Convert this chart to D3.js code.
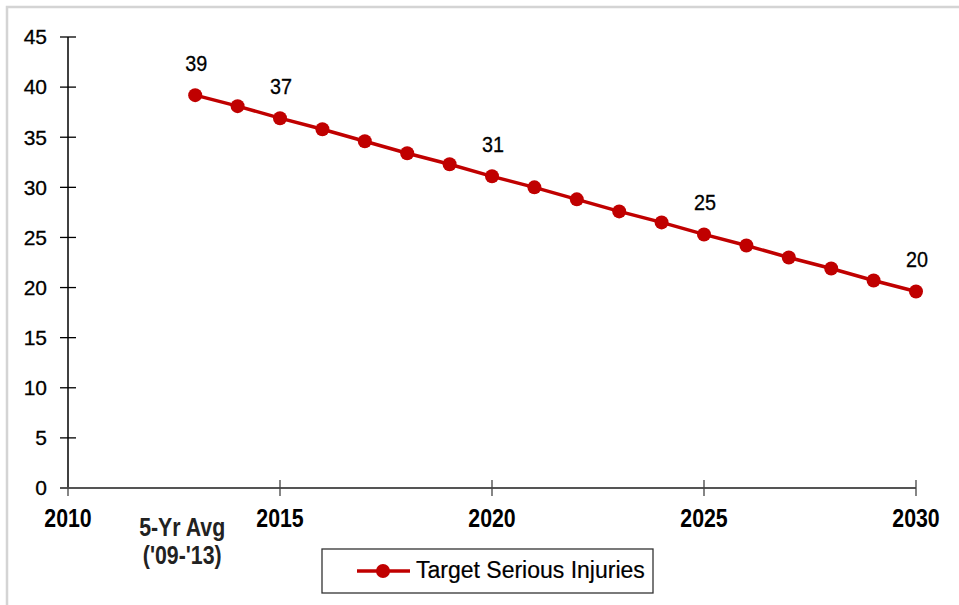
<!DOCTYPE html>
<html>
<head>
<meta charset="utf-8">
<script src="https://cdn.jsdelivr.net/npm/d3@7"></script>
<style>
  html, body { margin: 0; padding: 0; background: #fff; }
  svg { display: block; }
  text { font-family: "Liberation Sans", Arial, sans-serif; }
</style>
</head>
<body>
<svg id="chart" width="959" height="605"></svg>
<script>
// Target serious injuries, 5-year average baseline ('09-'13) through 2030
const years = [2013, 2014, 2015, 2016, 2017, 2018, 2019, 2020, 2021,
               2022, 2023, 2024, 2025, 2026, 2027, 2028, 2029, 2030];
const targets = [39.2, 38.1, 36.9, 35.8, 34.6, 33.4, 32.3, 31.1, 30.0,
                 28.8, 27.6, 26.5, 25.3, 24.2, 23.0, 21.9, 20.7, 19.6];
const labelledYears = [2013, 2015, 2020, 2025, 2030];
const xTicks = [2010, 2015, 2020, 2025, 2030];
const yTicks = [0, 5, 10, 15, 20, 25, 30, 35, 40, 45];
const baselineLabel = ["5-Yr Avg", "('09-'13)"];
const seriesName = "Target Serious Injuries";

const red = "#c00000";
const narrow = 0.82; // horizontal squeeze for the condensed bold labels
const svg = d3.select("#chart");

// outer frame (top and left edges)
svg.append("path")
  .attr("d", "M7,605 V7 H959")
  .attr("fill", "none")
  .attr("stroke", "#d4d4d4")
  .attr("stroke-width", 2.5);

const x = d3.scaleLinear().domain([2010, 2030]).range([68, 916]);
const y = d3.scaleLinear().domain([0, 45]).range([488, 37]);

// y axis
svg.append("line")
  .attr("x1", x(2010)).attr("x2", x(2010))
  .attr("y1", y(45)).attr("y2", y(0))
  .attr("stroke", "#000").attr("stroke-width", 1.5);
svg.selectAll(".ytick").data(yTicks).join("line")
  .attr("x1", x(2010) - 8).attr("x2", x(2010) + 8)
  .attr("y1", d => y(d)).attr("y2", d => y(d))
  .attr("stroke", "#000").attr("stroke-width", 1.3);
svg.selectAll(".ylab").data(yTicks).join("text")
  .attr("x", 47).attr("y", d => y(d))
  .attr("dy", "0.35em")
  .attr("text-anchor", "end")
  .attr("font-size", 21)
  .attr("fill", "#000")
  .attr("stroke", "#000").attr("stroke-width", 0.3)
  .text(d => d);

// x axis
svg.append("line")
  .attr("x1", x(2010) - 8).attr("x2", x(2030))
  .attr("y1", y(0)).attr("y2", y(0))
  .attr("stroke", "#555").attr("stroke-width", 2);
svg.selectAll(".xtick").data(xTicks).join("line")
  .attr("x1", d => x(d)).attr("x2", d => x(d))
  .attr("y1", y(0) - 8).attr("y2", y(0) + 8)
  .attr("stroke", "#444").attr("stroke-width", 1.3);
svg.selectAll(".xlab").data(xTicks).join("text")
  .attr("transform", d => `translate(${x(d)},518) scale(${narrow},1)`)
  .attr("dy", "0.35em")
  .attr("text-anchor", "middle")
  .attr("font-size", 26).attr("font-weight", "bold")
  .attr("fill", "#000")
  .text(d => d);

// baseline category label
svg.selectAll(".base").data(baselineLabel).join("text")
  .attr("transform", (d, i) => `translate(${x(2013) - 13},${527 + i * 28}) scale(${narrow},1)`)
  .attr("dy", "0.35em")
  .attr("text-anchor", "middle")
  .attr("font-size", 26).attr("font-weight", "bold")
  .attr("fill", "#222")
  .text(d => d);

// series line and markers
const pts = years.map((yr, i) => ({ yr, v: targets[i] }));
svg.append("path")
  .datum(pts)
  .attr("fill", "none")
  .attr("stroke", red)
  .attr("stroke-width", 3.5)
  .attr("d", d3.line().x(d => x(d.yr)).y(d => y(d.v)));
svg.selectAll(".pt").data(pts).join("circle")
  .attr("cx", d => x(d.yr)).attr("cy", d => y(d.v))
  .attr("r", 7)
  .attr("fill", red);

// value labels
const fmt = d3.format(".0f");
svg.selectAll(".vlab").data(pts.filter(d => labelledYears.includes(d.yr))).join("text")
  .attr("transform", d => `translate(${x(d.yr) + 1},${y(d.v) - 32}) scale(0.9,1)`)
  .attr("dy", "0.35em")
  .attr("text-anchor", "middle")
  .attr("font-size", 22)
  .attr("fill", "#000")
  .attr("stroke", "#000").attr("stroke-width", 0.3)
  .text(d => fmt(d.v));

// legend
const lg = svg.append("g");
lg.append("rect")
  .attr("x", 322).attr("y", 549)
  .attr("width", 331).attr("height", 44)
  .attr("fill", "#fff")
  .attr("stroke", "#333").attr("stroke-width", 1.3);
lg.append("line")
  .attr("x1", 357).attr("x2", 410)
  .attr("y1", 571).attr("y2", 571)
  .attr("stroke", red).attr("stroke-width", 3.5);
lg.append("circle")
  .attr("cx", 383).attr("cy", 571).attr("r", 7)
  .attr("fill", red);
lg.append("text")
  .attr("x", 416).attr("y", 570)
  .attr("dy", "0.35em")
  .attr("font-size", 23)
  .attr("fill", "#000")
  .attr("stroke", "#000").attr("stroke-width", 0.2)
  .text(seriesName);
</script>
</body>
</html>
